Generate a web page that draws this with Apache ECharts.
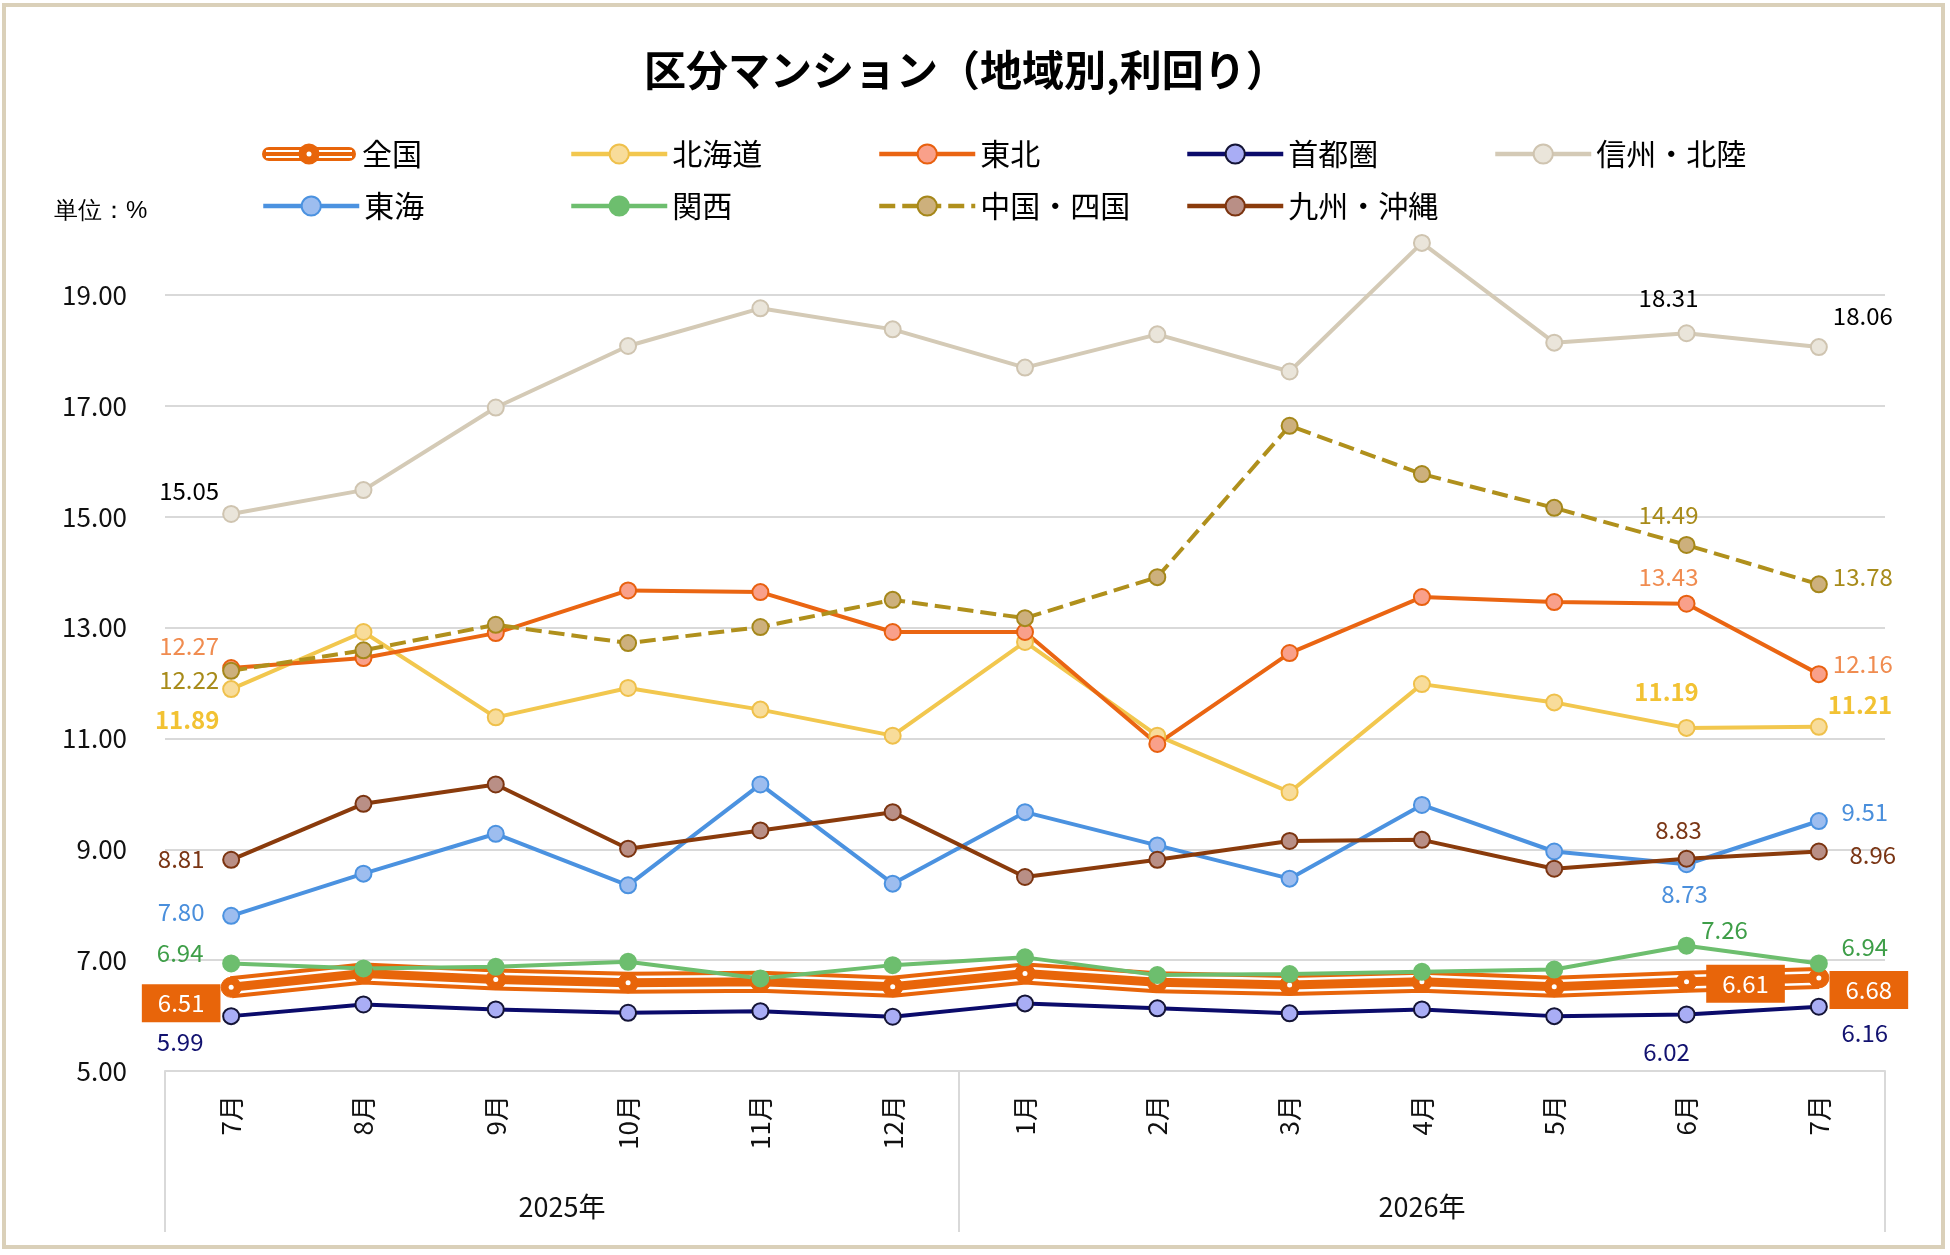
<!DOCTYPE html>
<html>
<head>
<meta charset="utf-8">
<script src="https://cdn.jsdelivr.net/npm/echarts@6/dist/echarts.min.js"></script>
<style>
html,body{margin:0;padding:0;background:#fff;}
#chart{width:1950px;height:1255px;}
</style>
</head>
<body>
<div id="chart"></div>
<script>
// ---------- data ----------
const months = ['7月','8月','9月','10月','11月','12月','1月','2月','3月','4月','5月','6月','7月'];
const yearNames = ['2025年','2026年'];
const yearMonthCounts = [6, 7];
const seriesNames = ['全国','北海道','東北','首都圏','信州・北陸','東海','関西','中国・四国','九州・沖縄'];

const zenkoku   = [6.51, 6.76, 6.65, 6.59, 6.61, 6.52, 6.76, 6.60, 6.55, 6.61, 6.52, 6.61, 6.68];
const hokkaido  = [11.89, 12.92, 11.38, 11.91, 11.52, 11.05, 12.74, 11.05, 10.03, 11.98, 11.65, 11.19, 11.21];
const tohoku    = [12.27, 12.45, 12.90, 13.67, 13.64, 12.92, 12.92, 10.90, 12.54, 13.55, 13.46, 13.43, 12.16];
const shutoken  = [5.99, 6.20, 6.11, 6.05, 6.08, 5.98, 6.22, 6.13, 6.04, 6.11, 5.99, 6.02, 6.16];
const shinshu   = [15.05, 15.48, 16.97, 18.08, 18.76, 18.38, 17.69, 18.29, 17.62, 19.94, 18.14, 18.31, 18.06];
const tokai     = [7.80, 8.56, 9.28, 8.35, 10.17, 8.38, 9.67, 9.07, 8.47, 9.80, 8.96, 8.73, 9.51];
const kansai    = [6.94, 6.85, 6.88, 6.97, 6.67, 6.91, 7.05, 6.73, 6.75, 6.79, 6.83, 7.26, 6.94];
const chugoku   = [12.22, 12.59, 13.05, 12.72, 13.01, 13.50, 13.17, 13.91, 16.64, 15.77, 15.16, 14.49, 13.78];
const kyushu    = [8.81, 9.82, 10.17, 9.01, 9.34, 9.67, 8.50, 8.81, 9.15, 9.17, 8.65, 8.83, 8.96];

const yMin = 5, yMax = 19, yInterval = 2;

// ---------- styles ----------
const FONT = '"Noto Sans CJK JP","Noto Sans",sans-serif';
const ORANGE = '#E8650A';
const styles = [
  {name:'北海道', data:hokkaido, line:'#F2C74E', fill:'#F8DC9A', border:'#EFC04B', label:'#F2C233', bold:true,
   offsets:{0:[-44,31],11:[-20,-36],12:[41,-22]}},
  {name:'東北', data:tohoku, line:'#EA6512', fill:'#F9A08A', border:'#E8600F', label:'#F08C50',
   offsets:{0:[-42,-22],11:[-18,-27],12:[44,-10]}},
  {name:'首都圏', data:shutoken, line:'#0B0B6B', fill:'#A9ADF5', border:'#141436', label:'#121270',
   offsets:{0:[-51,26],11:[-20,37],12:[46,26]}},
  {name:'信州・北陸', data:shinshu, line:'#D4CAB6', fill:'#EAE5DA', border:'#CFC4B0', label:'#000000',
   offsets:{0:[-42,-23],11:[-18,-35],12:[44,-31]}},
  {name:'東海', data:tokai, line:'#4B92E0', fill:'#9DBDEF', border:'#4B92E0', label:'#4A8FDC',
   offsets:{0:[-50,-4],11:[-2,30],12:[46,-9]}},
  {name:'関西', data:kansai, line:'#6DBE6E', fill:'#6DBE6E', border:'#6DBE6E', label:'#3E9E48',
   offsets:{0:[-51,-11],11:[38,-16],12:[46,-17]}},
  {name:'中国・四国', data:chugoku, line:'#B0901C', fill:'#CDB07C', border:'#A5871A', label:'#A88B1A', dashed:true,
   offsets:{0:[-42,9],11:[-18,-30],12:[44,-7]}},
  {name:'九州・沖縄', data:kyushu, line:'#8A3B0C', fill:'#B98F86', border:'#7B3410', label:'#7A3514',
   offsets:{0:[-50,-1],11:[-8,-29],12:[54,3]}}
];
const zenkokuOffsets = {0:[-50,16], 11:[59,2], 12:[50,12]};

function fmt(p){ return Number(p.value).toFixed(2); }

function labeled(values, offsets, extra){
  return values.map((v,i)=> offsets[i] ? {value:v, label:Object.assign({show:true, position:'inside', offset:offsets[i]}, extra)} : v);
}

const series = [];
// 全国: triple line
series.push({name:'全国_outer', type:'line', data:zenkoku, symbol:'none', clip:false, silent:true,
  lineStyle:{color:ORANGE, width:22}, emphasis:{disabled:true}});
series.push({name:'全国_inner', type:'line', data:zenkoku, symbol:'none', clip:false, silent:true,
  lineStyle:{color:'#ffffff', width:14}, emphasis:{disabled:true}});
series.push({name:'全国', type:'line', data:zenkoku, symbol:'circle', symbolSize:20, clip:false, silent:true,
  lineStyle:{color:ORANGE, width:9}, itemStyle:{color:ORANGE, borderColor:ORANGE, borderWidth:1}, emphasis:{disabled:true}});
series.push({name:'全国_dot', type:'line', data:zenkoku, symbol:'circle', symbolSize:5, clip:false, silent:true,
  lineStyle:{opacity:0, width:0}, itemStyle:{color:'#ffffff', borderWidth:0}, emphasis:{disabled:true}});

styles.forEach(s=>{
  series.push({
    name:s.name, type:'line', clip:false, silent:true,
    data: labeled(s.data, s.offsets, {color:s.label, fontWeight: s.bold?'bold':'normal'}),
    symbol:'circle', symbolSize:16,
    lineStyle:{color:s.line, width:4, type: s.dashed ? [16,7] : 'solid'},
    itemStyle:{color:s.fill, borderColor:s.border, borderWidth:2},
    label:{show:false, fontSize:24, fontFamily:FONT, formatter:fmt},
    emphasis:{disabled:true}
  });
});

// 全国 labels on top
series.push({name:'全国_label', type:'line', clip:false, silent:true, z:10,
  data: labeled(zenkoku, zenkokuOffsets, {color:'#ffffff', backgroundColor:ORANGE, padding:[7,16]}),
  symbol:'circle', symbolSize:1, lineStyle:{opacity:0, width:0}, itemStyle:{color:'rgba(0,0,0,0)'},
  label:{show:false, fontSize:24, fontFamily:FONT, formatter:fmt}, emphasis:{disabled:true}});

// year label positions from month counts
const yearCenters = {};
let acc = 0;
yearMonthCounts.forEach((c,i)=>{ yearCenters[(acc + c/2).toFixed(1)] = yearNames[i]; acc += c; });

const zenkokuIcon = 'image://data:image/svg+xml;charset=utf-8,' + encodeURIComponent(
  "<svg xmlns='http://www.w3.org/2000/svg' width='96' height='24' viewBox='0 0 96 24'>" +
  "<line x1='8' y1='12' x2='88' y2='12' stroke='" + ORANGE + "' stroke-width='14' stroke-linecap='round'/>" +
  "<line x1='5' y1='12' x2='91' y2='12' stroke='#ffffff' stroke-width='8'/>" +
  "<line x1='3' y1='12' x2='93' y2='12' stroke='" + ORANGE + "' stroke-width='4'/>" +
  "<circle cx='48' cy='12' r='10.5' fill='" + ORANGE + "'/>" +
  "<circle cx='48' cy='12' r='2.5' fill='#ffffff'/></svg>");

// legend grid: 5 columns in first row, rest in second
const legendCols = 5;
const legends = seriesNames.map((n, i)=>({
  left: 261 + (i % legendCols) * 308,
  top: i < legendCols ? 139 : 191,
  itemWidth:96, itemHeight:24, itemGap:10, selectedMode:false, padding:0,
  lineStyle:{width:4.5},
  itemStyle:{borderWidth:2},
  textStyle:{fontSize:30, color:'#000', fontFamily:FONT},
  data:[ n === '全国' ? {name:n, icon:zenkokuIcon} : {name:n} ]
}));

const option = {
  backgroundColor:'#ffffff',
  animation:false,
  title:{text:'区分マンション（地域別,利回り）', left:644, top:49, padding:0,
    textStyle:{fontSize:42, fontWeight:'bold', color:'#000', fontFamily:FONT}},
  legend: legends,
  grid:{left:165, right:65, top:295, bottom:184, containLabel:false},
  xAxis:[
    {type:'category', data:months, boundaryGap:true,
     axisLine:{show:true, lineStyle:{color:'#D9D9D9', width:2}},
     axisTick:{show:true, length:161, interval:(i)=> i===0 || i===6, lineStyle:{color:'#D9D9D9', width:2}},
     axisLabel:{rotate:90, fontSize:26, color:'#111', fontFamily:FONT, margin:24, interval:0}},
    {type:'value', min:0, max:months.length, interval:0.5, position:'bottom',
     axisLine:{show:false}, axisTick:{show:false}, splitLine:{show:false},
     axisLabel:{fontSize:27, color:'#111', fontFamily:FONT, margin:122,
       formatter:(v)=> yearCenters[Number(v).toFixed(1)] || ''}}
  ],
  yAxis:{type:'value', min:yMin, max:yMax, interval:yInterval,
    axisLine:{show:false}, axisTick:{show:false},
    splitLine:{lineStyle:{color:'#D9D9D9', width:2}},
    axisLabel:{fontSize:26, color:'#111', fontFamily:FONT, margin:38, formatter:(v)=> Number(v).toFixed(2)}},
  graphic:[
    {type:'rect', shape:{x:4, y:5, width:1939, height:1242}, style:{fill:'none', stroke:'#DAD0B9', lineWidth:4}, silent:true, z:-1},
    {type:'text', left:54, top:199, style:{text:'単位：%', fontSize:24, fill:'#000', font:'24px ' + FONT}, silent:true}
  ],
  series:series
};

const chart = echarts.init(document.getElementById('chart'), null, {renderer:'canvas'});
chart.setOption(option);
</script>
</body>
</html>
